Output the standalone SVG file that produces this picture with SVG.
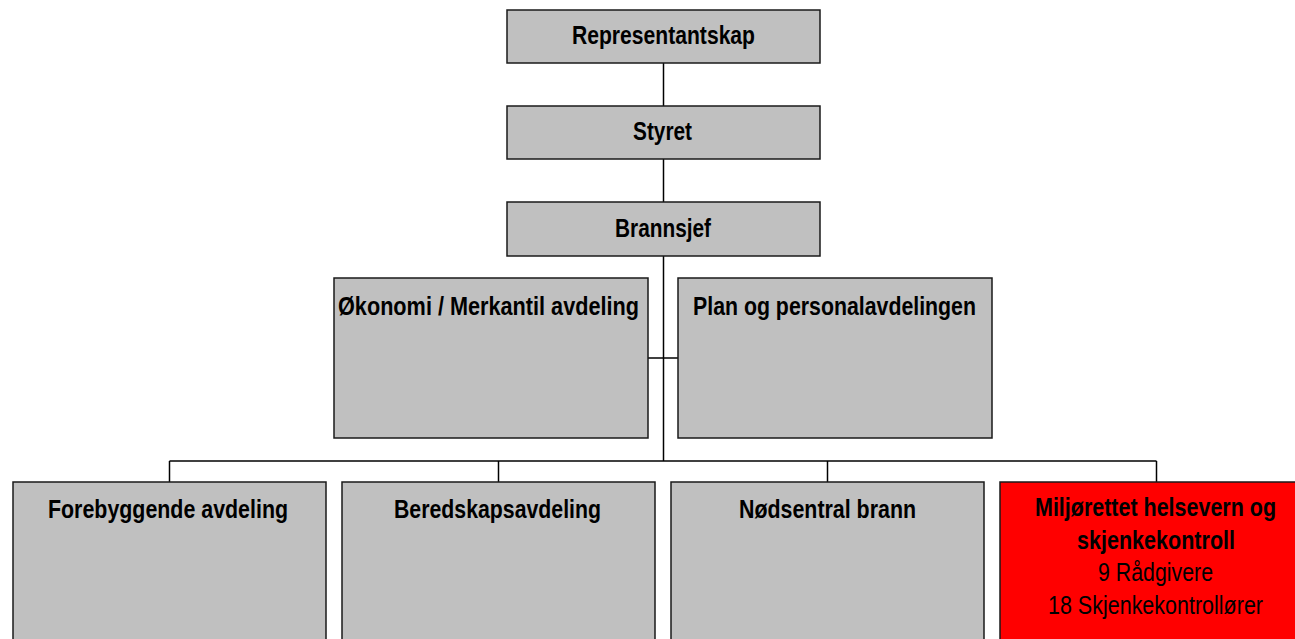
<svg xmlns="http://www.w3.org/2000/svg" width="1295" height="639" viewBox="0 0 1295 639">
<style>
.box{fill:#c0c0c0;stroke:#1a1a1a;stroke-width:1.5}
.red{fill:#ff0000;stroke:#1a1a1a;stroke-width:1.5}
.t{font-family:"Liberation Sans Narrow","Arial Narrow","Liberation Sans",Arial,sans-serif;font-weight:bold;font-size:26px;fill:#000;text-anchor:middle}
.n{font-weight:normal}
.conn line{stroke:#000;stroke-width:1.5}
</style>
<rect width="1295" height="639" fill="#fff"/>
<g class="conn" id="connectors">
<line x1="663.5" y1="63" x2="663.5" y2="106"/>
<line x1="663.5" y1="159" x2="663.5" y2="202"/>
<line x1="663.5" y1="256" x2="663.5" y2="461"/>
<line x1="648" y1="358" x2="678" y2="358"/>
<line x1="169.5" y1="461" x2="1156.5" y2="461"/>
<line x1="169.5" y1="461" x2="169.5" y2="482"/>
<line x1="498.5" y1="461" x2="498.5" y2="482"/>
<line x1="827.5" y1="461" x2="827.5" y2="482"/>
<line x1="1156.5" y1="461" x2="1156.5" y2="482"/>
</g>
<g id="representantskap">
<rect class="box" x="507" y="10" width="313" height="53"/>
<text class="t" x="663.5" y="44" textLength="183" lengthAdjust="spacingAndGlyphs">Representantskap</text>
</g>
<g id="styret">
<rect class="box" x="507" y="106" width="313" height="53"/>
<text class="t" x="662.5" y="140" textLength="59" lengthAdjust="spacingAndGlyphs">Styret</text>
</g>
<g id="brannsjef">
<rect class="box" x="507" y="202" width="313" height="54"/>
<text class="t" x="663" y="237" textLength="96" lengthAdjust="spacingAndGlyphs">Brannsjef</text>
</g>
<g id="okonomi">
<rect class="box" x="334" y="278" width="314" height="160"/>
<text class="t" x="488.5" y="315" textLength="301" lengthAdjust="spacingAndGlyphs">Økonomi / Merkantil avdeling</text>
</g>
<g id="plan">
<rect class="box" x="678" y="278" width="314" height="160"/>
<text class="t" x="834.5" y="315" textLength="283" lengthAdjust="spacingAndGlyphs">Plan og personalavdelingen</text>
</g>
<g id="forebyggende">
<rect class="box" x="13" y="482" width="313" height="170"/>
<text class="t" x="168" y="518" textLength="240" lengthAdjust="spacingAndGlyphs">Forebyggende avdeling</text>
</g>
<g id="beredskap">
<rect class="box" x="342" y="482" width="313" height="170"/>
<text class="t" x="497.5" y="518" textLength="207" lengthAdjust="spacingAndGlyphs">Beredskapsavdeling</text>
</g>
<g id="nodsentral">
<rect class="box" x="671" y="482" width="313" height="170"/>
<text class="t" x="827.5" y="518" textLength="177" lengthAdjust="spacingAndGlyphs">Nødsentral brann</text>
</g>
<g id="miljo">
<rect class="red" x="1000" y="482" width="313" height="170"/>
<text class="t" x="1155.5" y="516" textLength="241" lengthAdjust="spacingAndGlyphs">Miljørettet helsevern og</text>
<text class="t" x="1156" y="549" textLength="158" lengthAdjust="spacingAndGlyphs">skjenkekontroll</text>
<text class="t n" x="1155.5" y="581" textLength="115" lengthAdjust="spacingAndGlyphs">9 Rådgivere</text>
<text class="t n" x="1155.5" y="614" textLength="215" lengthAdjust="spacingAndGlyphs">18 Skjenkekontrollører</text>
</g>
</svg>
